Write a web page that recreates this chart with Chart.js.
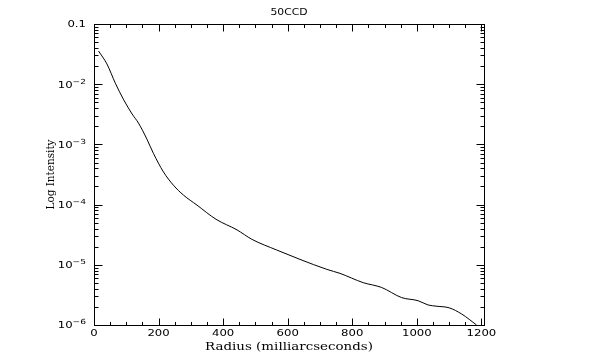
<!DOCTYPE html>
<html>
<head>
<meta charset="utf-8">
<script src="https://cdn.jsdelivr.net/npm/chart.js@4/dist/chart.umd.min.js"></script>
<style>
  body { margin: 0; background: #fff; }
  canvas { display: block; }
</style>
</head>
<body>
<canvas id="psf" width="600" height="355"></canvas>
<script>
// radial profile
const radius = [14, 40, 66, 92, 118, 138, 164, 184, 215, 246, 277, 319, 378, 443, 489, 566, 638, 721, 762, 834, 891, 953, 1004, 1035, 1062, 1100, 1139, 1185];
const intensity = [0.0356, 0.0217, 0.0104, 0.0055, 0.0032, 0.00225, 0.00122, 0.00071, 0.00035, 0.00021, 0.000144, 9.8e-5, 5.7e-5, 3.8e-5, 2.65e-5, 1.76e-5, 1.23e-5, 8.4e-6, 7.2e-6, 5.05e-6, 4.2e-6, 2.85e-6, 2.53e-6, 2.15e-6, 2.05e-6, 1.93e-6, 1.52e-6, 1.0e-6];

const xTicks = [0, 200, 400, 600, 800, 1000, 1200];
const xTickLabels = ['0', '200', '400', '600', '800', '1000', '1200'];
const yTicks = [1e-1, 1e-2, 1e-3, 1e-4, 1e-5, 1e-6];
const yTickBase = ['0.1', '10', '10', '10', '10', '10'];
const yTickExp = ['', '\u22122', '\u22123', '\u22124', '\u22125', '\u22126'];

const chartTitle = '50CCD';
const xTitle = 'Radius (milliarcseconds)';
const yTitle = 'Log Intensity';

// stretched text, to get closer to the wide pgplot lettering
function stretchText(ctx, s, x, y, align, font, sx) {
    ctx.save();
    ctx.font = font;
    ctx.textBaseline = 'middle';
    ctx.textAlign = 'left';
    const w = ctx.measureText(s).width * sx;
    let x0 = x;
    if (align === 'center') x0 = x - w / 2;
    if (align === 'right') x0 = x - w;
    ctx.translate(x0, y);
    ctx.scale(sx, 1);
    ctx.fillText(s, 0, 0);
    ctx.restore();
    return w;
}
function textWidth(ctx, s, font, sx) {
    ctx.save();
    ctx.font = font;
    const w = ctx.measureText(s).width * sx;
    ctx.restore();
    return w;
}

const tickFont = '9px "DejaVu Sans"';
const supFont = '7px "DejaVu Sans"';
const titleFont = '11px "DejaVu Serif"';

const pgFrame = {
    id: 'pgFrame',
    afterDraw(chart) {
        const ctx = chart.ctx;
        const a = chart.chartArea;
        const xs = chart.scales.x;
        const ys = chart.scales.y;
        const L = Math.round(a.left) + 0.5, R = Math.round(a.right) + 0.5;
        const T = Math.round(a.top) + 0.5, B = Math.round(a.bottom) + 0.5;

        ctx.save();
        ctx.strokeStyle = '#000';
        ctx.fillStyle = '#000';
        ctx.lineWidth = 1;
        ctx.strokeRect(L, T, R - L, B - T);

        ctx.beginPath();
        // x ticks, inward on bottom and top
        for (let v = 0; v <= 1200; v += 50) {
            const px = Math.round(xs.getPixelForValue(v)) + 0.5;
            const len = v % 200 === 0 ? 7 : 3.5;
            ctx.moveTo(px, B); ctx.lineTo(px, B - len);
            ctx.moveTo(px, T); ctx.lineTo(px, T + len);
        }
        // y ticks, decades plus 2..9
        for (let e = -6; e <= -1; e++) {
            for (let m = 1; m <= 9; m++) {
                const v = m * Math.pow(10, e);
                if (v > 0.1 + 1e-12) break;
                const py = Math.round(ys.getPixelForValue(v)) + 0.5;
                const len = m === 1 ? 8 : 4;
                ctx.moveTo(L, py); ctx.lineTo(L + len, py);
                ctx.moveTo(R, py); ctx.lineTo(R - len, py);
            }
        }
        ctx.stroke();

        // tick labels
        xTicks.forEach((v, i) => {
            stretchText(ctx, xTickLabels[i], xs.getPixelForValue(v), B + 8.5, 'center', tickFont, 1.3);
        });
        yTicks.forEach((v, i) => {
            const py = ys.getPixelForValue(v);
            const right = a.left - 8;
            const we = yTickExp[i] ? textWidth(ctx, yTickExp[i], supFont, 1.3) : 0;
            const wb = textWidth(ctx, yTickBase[i], tickFont, 1.3);
            stretchText(ctx, yTickBase[i], right - we - wb, py + 1, 'left', tickFont, 1.3);
            if (yTickExp[i]) stretchText(ctx, yTickExp[i], right - we, py - 2.5, 'left', supFont, 1.3);
        });

        // titles
        stretchText(ctx, chartTitle, (a.left + a.right) / 2, 13, 'center', tickFont, 1.2);
        stretchText(ctx, xTitle, (a.left + a.right) / 2, 347.5, 'center', titleFont, 1.22);
        ctx.save();
        ctx.translate(51, (a.top + a.bottom) / 2);
        ctx.rotate(-Math.PI / 2);
        stretchText(ctx, yTitle, 0, 0, 'center', titleFont, 0.95);
        ctx.restore();
        ctx.restore();
    }
};

new Chart(document.getElementById('psf'), {
    type: 'scatter',
    data: {
        datasets: [{
            data: radius.map((r, i) => ({ x: r, y: intensity[i] })),
            showLine: true,
            borderColor: '#000',
            borderWidth: 1,
            pointRadius: 0,
            cubicInterpolationMode: 'monotone'
        }]
    },
    options: {
        responsive: false,
        animation: false,
        layout: { padding: { left: 0, right: 116, top: 24, bottom: 0 } },
        plugins: { legend: { display: false }, tooltip: { enabled: false } },
        scales: {
            x: {
                type: 'linear',
                min: 0,
                max: 1208,
                grid: { display: false },
                border: { display: false },
                ticks: { display: false },
                afterFit: (s) => { s.height = 30; }
            },
            y: {
                type: 'logarithmic',
                min: 1e-6,
                max: 0.1,
                grid: { display: false },
                border: { display: false },
                ticks: { display: false },
                afterFit: (s) => { s.height = s.height; s.width = 94; }
            }
        }
    },
    plugins: [pgFrame]
});
</script>
</body>
</html>
